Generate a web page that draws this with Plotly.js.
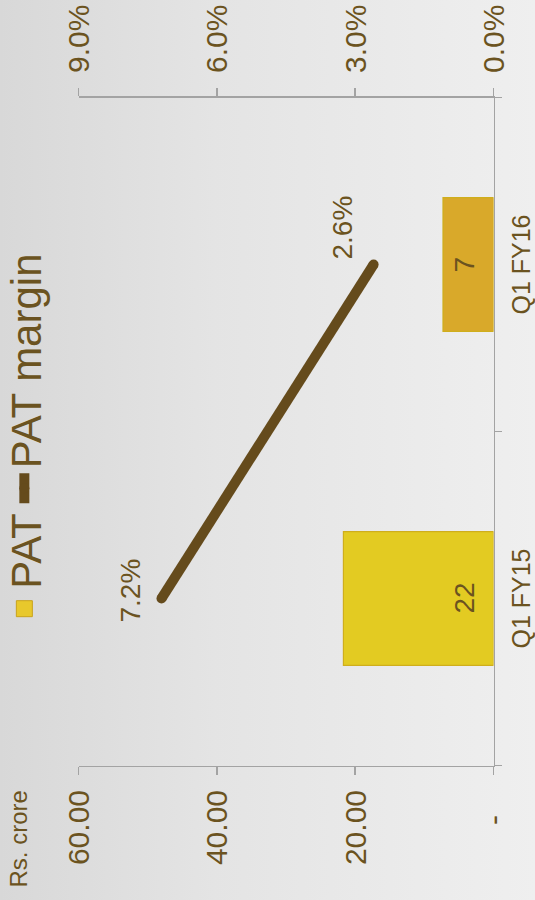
<!DOCTYPE html>
<html>
<head>
<meta charset="utf-8">
<script src="https://cdn.plot.ly/plotly-3.0.1.min.js"></script>
<style>
  html, body { margin: 0; padding: 0; width: 535px; height: 900px; overflow: hidden;
    background: linear-gradient(to right, #d8d8d8 0%, #e4e4e4 40%, #efefef 100%); }
  #chart { position: absolute; width: 900px; height: 535px; left: -182.5px; top: 182.5px;
    transform: rotate(-90deg); transform-origin: 50% 50%; }
</style>
</head>
<body>
<div id="chart"></div>
<script>
const categories = ["Q1 FY15", "Q1 FY16"];
const patValues = [21.7, 7.3];
const patLabels = ["22", "7"];
const marginValues = [7.2, 2.6];
const marginLabels = ["7.2%", "2.6%"];
const leftTickVals = [0, 20, 40, 60];
const leftTickText = ["-\u00a0\u00a0\u00a0", "20.00", "40.00", "60.00"];
const rightTickVals = [0, 3, 6, 9];
const rightTickText = ["0.0%", "3.0%", "6.0%", "9.0%"];

const textColor = "#6b5320";
const lineColor = "#654b1c";
const axisColor = "#a3a3a3";
const font = "Liberation Sans, Arial, sans-serif";

const traces = [
  {
    type: "bar",
    name: "PAT",
    x: categories,
    y: patValues,
    width: 0.4,
    marker: { color: ["#e3cb22", "#d9a92a"], line: { color: "#cfae1c", width: 1.2 } },
    textposition: "none",
    showlegend: false,
    hoverinfo: "skip"
  },
  {
    type: "scatter",
    name: "PAT",
    x: [null],
    y: [null],
    mode: "markers",
    marker: { symbol: "square", color: "#e8c82c", size: 16, line: { color: "#c9a21a", width: 1 } },
    hoverinfo: "skip"
  },
  {
    type: "scatter",
    name: "PAT margin",
    x: categories,
    y: marginValues,
    yaxis: "y2",
    mode: "lines+markers",
    line: { color: lineColor, width: 10 },
    marker: { color: lineColor, size: 10 },
    hoverinfo: "skip"
  }
];

const annotations = [
  {
    text: "Rs. crore",
    xref: "paper", yref: "paper",
    x: -0.185, xanchor: "left",
    y: 1.145, yanchor: "middle",
    showarrow: false,
    font: { family: font, size: 24, color: textColor }
  }
];
const marginLabelShift = [8, 37];
categories.forEach((c, i) => {
  annotations.push({
    text: patLabels[i],
    xref: "x", yref: "y",
    x: c, y: 0,
    xanchor: "center", yanchor: "bottom",
    yshift: 12,
    showarrow: false,
    font: { family: font, size: 28, color: textColor }
  });
  annotations.push({
    text: marginLabels[i],
    xref: "x", yref: "y2",
    x: c, y: marginValues[i],
    xanchor: "center", yanchor: "middle",
    xshift: marginLabelShift[i], yshift: 32,
    showarrow: false,
    font: { family: font, size: 28, color: textColor }
  });
});

const layout = {
  width: 900,
  height: 535,
  margin: { l: 135, r: 97, t: 78, b: 42, autoexpand: false },
  paper_bgcolor: "rgba(0,0,0,0)",
  plot_bgcolor: "rgba(0,0,0,0)",
  font: { family: font, color: textColor, size: 25 },
  showlegend: true,
  legend: {
    orientation: "h",
    x: 0.49, xanchor: "center",
    y: 1.13, yanchor: "middle",
    font: { family: font, size: 42, color: textColor },
    bgcolor: "rgba(0,0,0,0)",
    traceorder: "normal"
  },
  xaxis: {
    type: "category",
    showline: true, linecolor: axisColor, linewidth: 1.5,
    ticks: "outside", tickson: "boundaries", ticklen: 7, tickcolor: axisColor, tickwidth: 1.5,
    tickfont: { family: font, size: 25, color: textColor },
    ticklabelstandoff: 5,
    showgrid: false, zeroline: false
  },
  yaxis: {
    range: [0, 60],
    tickvals: leftTickVals, ticktext: leftTickText,
    showline: true, linecolor: axisColor, linewidth: 1.5,
    ticks: "outside", ticklen: 8, tickcolor: axisColor, tickwidth: 1.5,
    tickfont: { family: font, size: 30, color: textColor },
    ticklabelstandoff: 9,
    showgrid: false, zeroline: false
  },
  yaxis2: {
    range: [0, 9],
    overlaying: "y", side: "right",
    tickvals: rightTickVals, ticktext: rightTickText,
    showline: true, linecolor: axisColor, linewidth: 1.5,
    ticks: "outside", ticklen: 8, tickcolor: axisColor, tickwidth: 1.5,
    tickfont: { family: font, size: 30, color: textColor },
    ticklabelstandoff: 9,
    showgrid: false, zeroline: false
  },
  annotations: annotations
};

Plotly.newPlot("chart", traces, layout, { displayModeBar: false, staticPlot: true });
</script>
</body>
</html>
